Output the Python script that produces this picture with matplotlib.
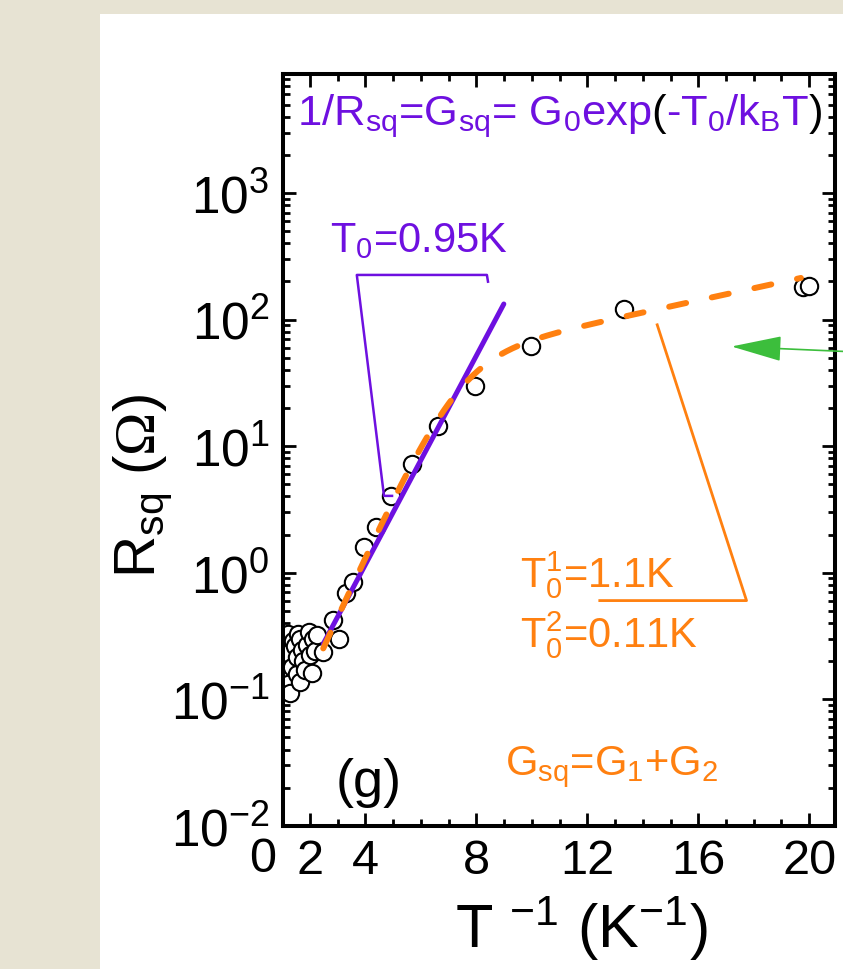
import numpy as np
import matplotlib.pyplot as plt
from matplotlib.patches import Rectangle
from matplotlib.ticker import FixedLocator, MultipleLocator, LogLocator, NullFormatter, LogFormatterMathtext

plt.rcParams['font.family'] = 'Liberation Sans'
plt.rcParams['mathtext.fontset'] = 'custom'
plt.rcParams['mathtext.rm'] = 'Liberation Sans'
plt.rcParams['mathtext.it'] = 'Liberation Sans'
plt.rcParams['mathtext.bf'] = 'Liberation Sans:bold'
plt.rcParams['mathtext.cal'] = 'Liberation Serif'

PURPLE = '#6E10E0'
ORANGE = '#FF8010'
GREEN = '#3CBE3C'

# sheet resistance vs inverse temperature
inv_T = [1.08, 1.08, 1.08, 1.08, 1.14, 1.16, 1.16, 1.22, 1.22, 1.22, 1.28, 1.34, 1.40,
         1.46, 1.52, 1.52, 1.58, 1.64, 1.64, 1.70, 1.76, 1.82, 1.88, 1.97, 2.02, 2.06,
         2.12, 2.18, 2.24, 2.48, 2.84, 3.06, 3.30, 3.55, 3.96, 4.40, 4.94, 5.67, 6.63,
         7.95, 9.96, 13.32, 19.78, 20.0]
R_sq = [0.320, 0.240, 0.170, 0.125, 0.280, 0.200, 0.150, 0.327, 0.230, 0.132, 0.112, 0.180,
        0.290, 0.265, 0.158, 0.215, 0.330, 0.300, 0.136, 0.245, 0.200, 0.170, 0.270, 0.342,
        0.225, 0.160, 0.300, 0.242, 0.320, 0.235, 0.42, 0.30, 0.69, 0.85, 1.59, 2.29,
        4.06, 7.2, 14.5, 30, 62.3, 120, 180, 184]

# activated fits: 1/R = G0 exp(-T0 / T)
T0_single, G0_single = 0.95, 38.6
T0_1, G_1 = 1.1, 60.3
T0_2, G_2 = 0.11, 0.041
single_range = (2.48, 8.99)
double_range = (2.48, 19.7)

x_major = [2, 4, 8, 12, 16, 20]

fig = plt.figure(figsize=(8.43, 9.70), dpi=100)
fig.patch.set_facecolor('#E7E3D3')
fig.patches.append(Rectangle((100 / 843, 0), 1, 955 / 970, transform=fig.transFigure,
                             facecolor='white', edgecolor='none', zorder=-5))
ax = fig.add_axes([283.3 / 843, 1 - 826.7 / 970, 551.7 / 843, 751.7 / 970])

ax.scatter(inv_T, R_sq, s=12.5 ** 2, facecolors='white', edgecolors='black', linewidths=1.5, zorder=2)

xs = np.linspace(*single_range, 200)
ax.plot(xs, np.exp(T0_single * xs) / G0_single, color=PURPLE, lw=3.6, solid_capstyle='round', zorder=3)

xd = np.linspace(*double_range, 400)
Gd = G_1 * np.exp(-T0_1 * xd) + G_2 * np.exp(-T0_2 * xd)
ax.plot(xd, 1 / Gd, color=ORANGE, lw=4.3, dashes=(2.9, 4.4), dash_capstyle='round', zorder=4)

# slope markers
ax.plot([8.42, 8.38, 3.69, 4.67, 4.96], [199, 225, 225, 4.04, 4.04], color=PURPLE, lw=1.8, zorder=3)
ax.plot([14.52, 17.74, 12.45], [90.8, 0.601, 0.601], color=ORANGE, lw=2.0, zorder=3)

ax.annotate('', xy=(17.2, 61.2), xytext=(21.6, 55.5), annotation_clip=False,
            arrowprops=dict(arrowstyle='-|>,head_length=3.2,head_width=0.8', color=GREEN,
                            lw=1.2, shrinkA=0, shrinkB=0))

ax.set_yscale('log')
ax.set_xlim(1.04, 20.93)
ax.set_ylim(1e-2, 10 ** 3.94)

ax.xaxis.set_major_locator(FixedLocator(x_major))
ax.xaxis.set_minor_locator(MultipleLocator(1))
ax.yaxis.set_major_locator(LogLocator(base=10))
ax.yaxis.set_major_formatter(LogFormatterMathtext())
ax.yaxis.set_minor_locator(LogLocator(base=10, subs=np.arange(2, 10)))
ax.yaxis.set_minor_formatter(NullFormatter())

for s in ax.spines.values():
    s.set_linewidth(2.9)
ax.tick_params(which='both', direction='in', top=True, right=True, width=2.0)
ax.tick_params(which='major', length=9.5)
ax.tick_params(which='minor', length=5)
ax.tick_params(axis='x', pad=9, labelsize=35)
ax.tick_params(axis='y', pad=10, labelsize=37)

# the zero label sits left of the frame
ax.text(0.3, -0.0135, '0', transform=ax.get_xaxis_transform(), ha='center', va='top', fontsize=35)

ax.text(0.541, -0.161, r'T $^{\mathregular{-1}}$ (K$^{\mathregular{-1}}$)', transform=ax.transAxes,
        ha='center', va='baseline', fontsize=44)
ax.text(-0.254, 0.453, r'R$_{sq}$ ($\mathcal{\Omega}$)', transform=ax.transAxes, ha='center', va='center',
        rotation=90, fontsize=42)


def colored_text(x, y, pieces, size):
    fig.canvas.draw()
    r = fig.canvas.get_renderer()
    for s, c in pieces:
        t = ax.text(x, y, s, color=c, fontsize=size, transform=ax.transAxes, va='baseline')
        bb = t.get_window_extent(renderer=r)
        x = ax.transAxes.inverted().transform((bb.x1, bb.y0))[0]


colored_text(0.024, 0.933, [(r'1/R$_{sq}$=G$_{sq}$= G$_0$exp', PURPLE), ('(', 'black'),
                            (r'-T$_0$/k$_B$T', PURPLE), (')', 'black')], 31.3)

ax.text(0.085, 0.765, r'T$_0$=0.95K', color=PURPLE, fontsize=30, transform=ax.transAxes, va='baseline')
ax.text(0.429, 0.318, r'T$_0^1$=1.1K', color=ORANGE, fontsize=30, transform=ax.transAxes, va='baseline')
ax.text(0.429, 0.238, r'T$_0^2$=0.11K', color=ORANGE, fontsize=30, transform=ax.transAxes, va='baseline')
ax.text(0.402, 0.069, r'G$_{sq}$=G$_1$+G$_2$', color=ORANGE, fontsize=30, transform=ax.transAxes, va='baseline')
ax.text(0.094, 0.040, '(g)', fontsize=39, transform=ax.transAxes, va='baseline')

fig.savefig('out.png', dpi=100, facecolor=fig.get_facecolor())
